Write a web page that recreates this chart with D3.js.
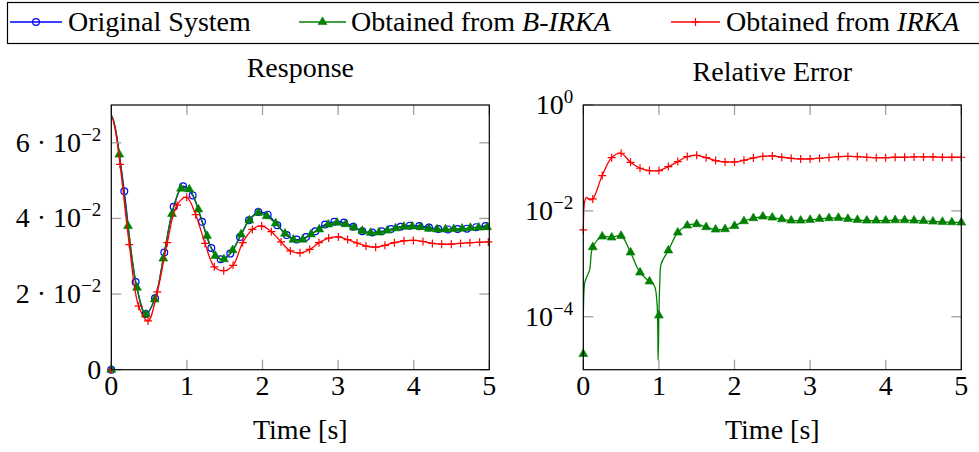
<!DOCTYPE html>
<html>
<head>
<meta charset="utf-8">
<script src="https://cdn.jsdelivr.net/npm/d3@7"></script>
<style>
body{margin:0;background:#fff;}
svg{display:block;font-family:"Liberation Serif","Times New Roman",serif;}
</style>
</head>
<body>
<div id="chart"></div>
<script>
//******************************************************************************
//**  Data
//******************************************************************************
var seriesNames = ["Original System", "Obtained from ", "Obtained from "];
var seriesItalic = ["", "B-IRKA", "IRKA"];
var timeTicks = [0, 1, 2, 3, 4, 5];

// Response: marker points of each series (time, value)
var respTimeOrig = [0, 0.172, 0.322, 0.455, 0.578, 0.701, 0.825, 0.949, 1.076, 1.2,
    1.323, 1.447, 1.574, 1.702, 1.821, 1.945, 2.068, 2.196, 2.32, 2.452,
    2.576, 2.699, 2.827, 2.95, 3.078, 3.201, 3.32, 3.453, 3.576, 3.70,
    3.827, 3.95, 4.074, 4.202, 4.325, 4.453, 4.58, 4.703, 4.827, 4.95];
var respOrig = [0, 0.0472, 0.0232, 0.0147, 0.0189, 0.0310, 0.0431, 0.0485, 0.0461, 0.0391,
    0.0322, 0.0292, 0.0307, 0.0351, 0.0395, 0.0417, 0.0410, 0.0382, 0.0356, 0.0344,
    0.0351, 0.0366, 0.0384, 0.0391, 0.0389, 0.0378, 0.0366, 0.0363, 0.0366, 0.0372,
    0.0378, 0.0381, 0.0380, 0.0376, 0.0372, 0.0371, 0.0372, 0.0373, 0.0377, 0.0380];

var respTimeBirka = [0, 0.106, 0.221, 0.34, 0.455, 0.574, 0.688, 0.803, 0.922, 1.032,
    1.151, 1.266, 1.376, 1.49, 1.605, 1.716, 1.826, 1.945, 2.055, 2.174,
    2.297, 2.408, 2.531, 2.641, 2.751, 2.87, 2.985, 3.1, 3.21, 3.32,
    3.43, 3.54, 3.65, 3.76, 3.87, 3.98, 4.09, 4.2, 4.31, 4.42,
    4.53, 4.64, 4.75, 4.86, 4.97];
var respBirka = [0, 0.0569, 0.0380, 0.0217, 0.0146, 0.0186, 0.0294, 0.0412, 0.0479, 0.0477,
    0.0424, 0.0354, 0.0301, 0.0292, 0.0316, 0.0358, 0.0395, 0.0415, 0.0406, 0.0387,
    0.0360, 0.0344, 0.0344, 0.0358, 0.0371, 0.0384, 0.0389, 0.0385, 0.0376, 0.0367,
    0.0362, 0.0363, 0.0368, 0.0374, 0.0378, 0.0379, 0.0377, 0.0373, 0.0371, 0.0371,
    0.0372, 0.0373, 0.0375, 0.0376, 0.0377];

var respTimeIrka = [0, 0.115, 0.238, 0.362, 0.486, 0.609, 0.741, 0.869, 0.997, 1.116,
    1.24, 1.363, 1.487, 1.61, 1.738, 1.866, 1.989, 2.117, 2.245, 2.368,
    2.496, 2.624, 2.747, 2.875, 3.003, 3.126, 3.25, 3.369, 3.497, 3.62,
    3.744, 3.872, 3.995, 4.123, 4.247, 4.37, 4.497, 4.62, 4.744, 4.872,
    4.987];
var respIrka = [0, 0.0543, 0.0331, 0.0168, 0.0129, 0.0206, 0.0336, 0.0435, 0.0456, 0.0410,
    0.0334, 0.0272, 0.0262, 0.0276, 0.0336, 0.0371, 0.0380, 0.0365, 0.0338, 0.0314,
    0.0309, 0.0318, 0.0336, 0.0348, 0.0351, 0.0344, 0.0335, 0.0327, 0.0324, 0.0329,
    0.0336, 0.0341, 0.0342, 0.0339, 0.0334, 0.0332, 0.0332, 0.0334, 0.0336, 0.0337,
    0.0338];

// Response: extra curve points (no marker) right after t=0
var respHeadTime = [0.004, 0.05];
var respHeadOrig = [0.0672, 0.0642];
var respHeadBirka = [0.0672, 0.0642];
var respHeadIrka = [0.0670, 0.0636];

var respTicks = [0, 0.02, 0.04, 0.06];
var respTickBase = ["0", "2 · 10", "4 · 10", "6 · 10"];
var respTickSup = ["", "−2", "−2", "−2"];

// Relative error: markers every 0.125 s
var errTime = [0, 0.125, 0.25, 0.375, 0.5, 0.625, 0.75, 0.875, 1, 1.125,
    1.25, 1.375, 1.5, 1.625, 1.75, 1.875, 2, 2.125, 2.25, 2.375,
    2.5, 2.625, 2.75, 2.875, 3, 3.125, 3.25, 3.375, 3.5, 3.625,
    3.75, 3.875, 4, 4.125, 4.25, 4.375, 4.5, 4.625, 4.75, 4.875, 5];
var errBirka = [1.98e-5, 2.06e-3, 3.28e-3, 3.14e-3, 3.38e-3, 1.64e-3, 6.86e-4, 4.64e-4, 1.06e-4, 1.79e-3,
    3.9e-3, 5.29e-3, 5.6e-3, 4.92e-3, 4.44e-3, 4.51e-3, 5.21e-3, 6.38e-3, 7.27e-3, 7.82e-3,
    7.48e-3, 6.96e-3, 6.57e-3, 6.57e-3, 6.76e-3, 7.06e-3, 7.27e-3, 7.38e-3, 7.06e-3, 6.76e-3,
    6.57e-3, 6.57e-3, 6.57e-3, 6.66e-3, 6.66e-3, 6.57e-3, 6.48e-3, 6.29e-3, 6.2e-3, 6.1e-3, 6.03e-3];
var errIrka = [4.38e-3, 0.0168, 0.0464, 0.101, 0.1225, 0.0828, 0.0638, 0.0577, 0.0577, 0.0686,
    0.0853, 0.106, 0.112, 0.101, 0.089, 0.084, 0.084, 0.0904, 0.100, 0.107,
    0.109, 0.103, 0.0985, 0.0958, 0.0958, 0.0985, 0.102, 0.106, 0.107, 0.106,
    0.103, 0.101, 0.101, 0.103, 0.103, 0.1045, 0.1045, 0.1045, 0.103, 0.103, 0.103];

// Relative error: extra curve points (no marker)
var errExtraTimeBirka = [0.018, 0.04, 0.084, 0.94, 0.975, 0.99, 1.013, 1.03];
var errExtraBirka = [4.3e-4, 5.4e-4, 7.7e-4, 3.85e-4, 1.8e-4, 1.5e-5, 5e-4, 1.0e-3];
var errExtraTimeIrka = [0.018, 0.04, 0.084];
var errExtraIrka = [0.015, 0.0179, 0.0162];

var errTicks = [1e-4, 1e-2, 1];
var errTickBase = ["10", "10", "10"];
var errTickSup = ["−4", "−2", "0"];


//******************************************************************************
//**  Layout
//******************************************************************************
var width = 979, height = 452;
var fontSize = 28;
var colors = ["#0000ff", "#008000", "#ff0000"];
var plotTop = 105, plotBottom = 369.7;

var svg = d3.select("#chart").append("svg")
    .attr("width", width)
    .attr("height", height);


//**************************************************************************
//** zip
//**************************************************************************
var zip = function(t, v){
    return t.map(function(d, i){ return {t: d, v: v[i]}; });
};

var byTime = function(a, b){ return a.t - b.t; };


//**************************************************************************
//** drawMarkers
//**************************************************************************
var drawMarkers = function(g, pts, x, y, idx){
    var color = colors[idx];
    pts.forEach(function(p){
        var cx = x(p.t), cy = y(p.v);
        if (idx === 0){
            g.append("circle").attr("cx", cx).attr("cy", cy).attr("r", 3.4)
              .attr("fill", "none").attr("stroke", color).attr("stroke-width", 1.2);
        }
        else if (idx === 1){
            g.append("path").attr("transform", "translate(" + cx + "," + cy + ")")
              .attr("d", d3.symbol(d3.symbolTriangle, 34)())
              .attr("fill", color).attr("stroke", color).attr("stroke-width", 0.6);
        }
        else {
            g.append("path").attr("d", "M" + (cx - 4) + "," + cy + "H" + (cx + 4) + "M" + cx + "," + (cy - 4) + "V" + (cy + 4))
              .attr("stroke", color).attr("stroke-width", 1.2);
        }
    });
};


//**************************************************************************
//** drawFrame
//**************************************************************************
var drawFrame = function(g, x, y, yTicks, base, sup, title, titleY){
    var x0 = x.range()[0], x1 = x.range()[1];

    // ticks (inside, on all four sides)
    var ticks = g.append("g").attr("stroke", "#a0a0a0").attr("stroke-width", 1.3);
    timeTicks.forEach(function(t){
        ticks.append("line").attr("x1", x(t)).attr("x2", x(t)).attr("y1", plotBottom).attr("y2", plotBottom - 10);
        ticks.append("line").attr("x1", x(t)).attr("x2", x(t)).attr("y1", plotTop).attr("y2", plotTop + 10);
    });
    yTicks.forEach(function(v){
        ticks.append("line").attr("x1", x0).attr("x2", x0 + 10).attr("y1", y(v)).attr("y2", y(v));
        ticks.append("line").attr("x1", x1).attr("x2", x1 - 10).attr("y1", y(v)).attr("y2", y(v));
    });

    // box
    g.append("rect")
      .attr("x", x0).attr("y", plotTop)
      .attr("width", x1 - x0).attr("height", plotBottom - plotTop)
      .attr("fill", "none").attr("stroke", "#000").attr("stroke-width", 1.2);

    // x tick labels
    timeTicks.forEach(function(t){
        g.append("text").attr("x", x(t)).attr("y", plotBottom + 25)
          .attr("text-anchor", "middle").attr("font-size", fontSize).text(t);
    });

    // y tick labels
    yTicks.forEach(function(v, i){
        var txt = g.append("text").attr("x", x0 - 10).attr("y", y(v) + 9)
          .attr("text-anchor", "end").attr("font-size", fontSize);
        txt.append("tspan").text(base[i]);
        if (sup[i]) txt.append("tspan").attr("dy", -11).attr("font-size", 19).text(sup[i]);
    });

    // title and axis label
    var cx = (x0 + x1) / 2;
    g.append("text").attr("x", cx).attr("y", titleY).attr("text-anchor", "middle")
      .attr("font-size", fontSize).text(title);
    g.append("text").attr("x", cx).attr("y", 439).attr("text-anchor", "middle")
      .attr("font-size", fontSize).text("Time [s]");
};


//**************************************************************************
//** Response plot
//**************************************************************************
var xResp = d3.scaleLinear().domain([0, 5]).range([111.3, 489.3]);
var yResp = d3.scaleLinear().domain([0, 0.07]).range([plotBottom, plotTop]);

var respSeries = [
    {pts: zip(respTimeOrig, respOrig), head: respHeadOrig},
    {pts: zip(respTimeBirka, respBirka), head: respHeadBirka},
    {pts: zip(respTimeIrka, respIrka), head: respHeadIrka}
];

var gResp = svg.append("g");
svg.append("clipPath").attr("id", "clipResp").append("rect")
  .attr("x", 111.3).attr("y", plotTop).attr("width", 378).attr("height", plotBottom - plotTop);

var lineResp = d3.line()
    .x(function(d){ return xResp(d.t); })
    .y(function(d){ return yResp(d.v); })
    .curve(d3.curveCatmullRom.alpha(0.5));

respSeries.forEach(function(s, i){
    var all = s.pts.concat(zip(respHeadTime, s.head)).sort(byTime);
    gResp.append("path").datum(all)
      .attr("d", lineResp).attr("fill", "none")
      .attr("stroke", colors[i]).attr("stroke-width", 1.3)
      .attr("clip-path", "url(#clipResp)");
    drawMarkers(gResp, s.pts, xResp, yResp, i);
});

drawFrame(gResp, xResp, yResp, respTicks, respTickBase, respTickSup, "Response", 77);


//**************************************************************************
//** Relative error plot
//**************************************************************************
var xErr = d3.scaleLinear().domain([0, 5]).range([583.3, 961.3]);
var yErr = d3.scaleLog().domain([1e-5, 1]).range([plotBottom, plotTop]);

var errSeries = [
    null,
    {pts: zip(errTime, errBirka), extra: zip(errExtraTimeBirka, errExtraBirka)},
    {pts: zip(errTime, errIrka), extra: zip(errExtraTimeIrka, errExtraIrka)}
];

var gErr = svg.append("g");
svg.append("clipPath").attr("id", "clipErr").append("rect")
  .attr("x", 583.3).attr("y", plotTop).attr("width", 378).attr("height", plotBottom - plotTop);

var lineErr = d3.line()
    .x(function(d){ return xErr(d.t); })
    .y(function(d){ return yErr(d.v); })
    .curve(d3.curveCatmullRom.alpha(0.5));

errSeries.forEach(function(s, i){
    if (!s) return;
    var all = s.pts.concat(s.extra).sort(byTime);
    gErr.append("path").datum(all)
      .attr("d", lineErr).attr("fill", "none")
      .attr("stroke", colors[i]).attr("stroke-width", 1.3)
      .attr("clip-path", "url(#clipErr)");
    drawMarkers(gErr, s.pts, xErr, yErr, i);
});

drawFrame(gErr, xErr, yErr, errTicks, errTickBase, errTickSup, "Relative Error", 81);


//**************************************************************************
//** Legend
//**************************************************************************
var legend = svg.append("g");
legend.append("rect")
  .attr("x", 7.5).attr("y", 2.5).attr("width", 990).attr("height", 41)
  .attr("fill", "#fff").attr("stroke", "#000").attr("stroke-width", 1.2);

var legendPos = [[10, 62, 68], [299, 346, 351], [671, 720, 726]];
var ident = function(d){ return d; };
seriesNames.forEach(function(name, i){
    var p = legendPos[i];
    var yc = 22;
    legend.append("line").attr("x1", p[0]).attr("x2", p[1]).attr("y1", yc).attr("y2", yc)
      .attr("stroke", colors[i]).attr("stroke-width", 1.3);
    drawMarkers(legend, [{t: (p[0] + p[1]) / 2, v: yc}], ident, ident, i);
    var txt = legend.append("text").attr("x", p[2]).attr("y", 31).attr("font-size", fontSize);
    txt.append("tspan").text(name);
    if (seriesItalic[i]) txt.append("tspan").attr("font-style", "italic").text(seriesItalic[i]);
});
</script>
</body>
</html>
